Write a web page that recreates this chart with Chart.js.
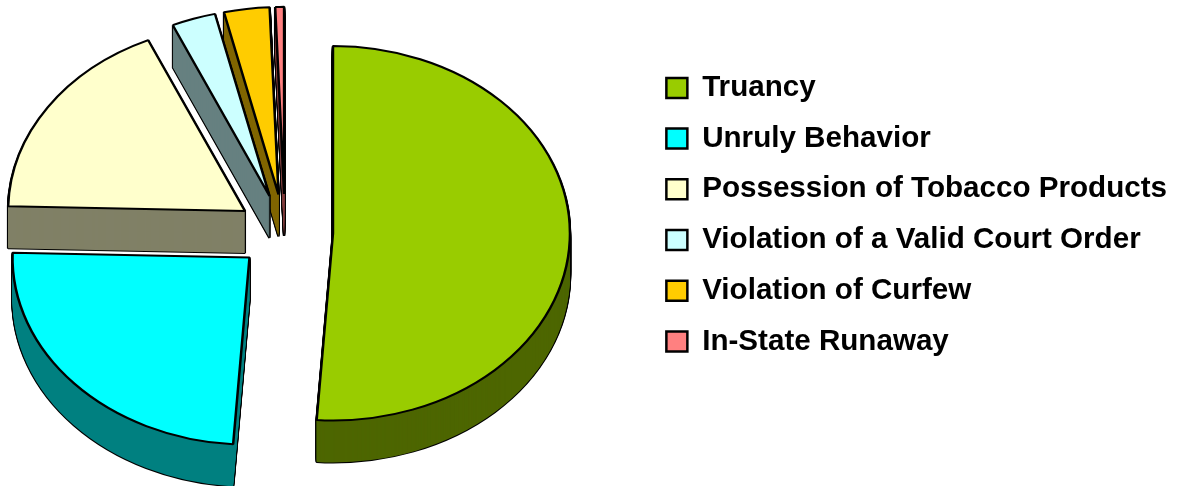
<!DOCTYPE html>
<html><head><meta charset="utf-8">
<style>html,body{margin:0;padding:0;background:#fff;overflow:hidden}#w{width:1180px;height:486px}</style>
<script src="https://cdn.jsdelivr.net/npm/chart.js@4"></script></head>
<body><div id="w"><canvas id="c"></canvas></div>
<script>
const categories = ["Truancy","Unruly Behavior","Possession of Tobacco Products","Violation of a Valid Court Order","Violation of Curfew","In-State Runaway"];
const values = [51.1,24.3,17.9,3.0,3.1,0.6];
const topColors = ["#99CC00","#00FFFF","#FFFFCC","#CCFFFF","#FFCC00","#FF8080"];
const sideColors = ["#4D6600","#008080","#808066","#668080","#806600","#804040"];
const R=237, EXPLODE=48, SQUASH=0.79, CX=285, CY=232, DEPTH=42;
const pie3d={id:'pie3d',
 afterDatasetsUpdate(chart){
  chart.getDatasetMeta(0).data.forEach(a=>{
   const m=(a.startAngle+a.endAngle)/2;
   a.x=CX+Math.cos(m)*EXPLODE; a.y=CY/SQUASH+Math.sin(m)*EXPLODE;
  });
 },
 beforeDatasetsDraw(chart){
  const ctx=chart.ctx, arcs=chart.getDatasetMeta(0).data, r=chart.currentDevicePixelRatio;
  ctx.save();
  const place=d=>{ctx.setTransform(r,0,0,r*SQUASH,0,r*d);};
  [5,4,3,2,1,0].forEach(i=>{
   const a=arcs[i], bg=a.options.backgroundColor, bw=a.options.borderWidth;
   a.options.backgroundColor='#000';
   for(let d=DEPTH;d>=1;d--){place(d);a.draw(ctx);}
   a.options.borderWidth=0;a.options.backgroundColor=sideColors[i];
   for(let d=DEPTH;d>=1;d--){place(d);a.draw(ctx);}
   a.options.backgroundColor=bg;a.options.borderWidth=bw;
   place(0);a.draw(ctx);
  });
  ctx.restore();
  return false;
 }};
new Chart(document.getElementById('c'),{type:'pie',
 data:{labels:categories,datasets:[{data:values,backgroundColor:topColors,borderColor:'#000',borderWidth:2.5}]},
 plugins:[pie3d],
 options:{responsive:true,maintainAspectRatio:false,animation:false,radius:R,rotation:0,
  layout:{padding:{top:52,right:3,left:0,bottom:0}},
  plugins:{tooltip:{enabled:false},title:{display:false},
   legend:{position:'right',align:'start',
    labels:{boxWidth:21,boxHeight:20,padding:21.1,color:'#000',font:{family:'"Liberation Sans",Arial,sans-serif',size:29.6,weight:'bold'}}}}}});
</script></body></html>
